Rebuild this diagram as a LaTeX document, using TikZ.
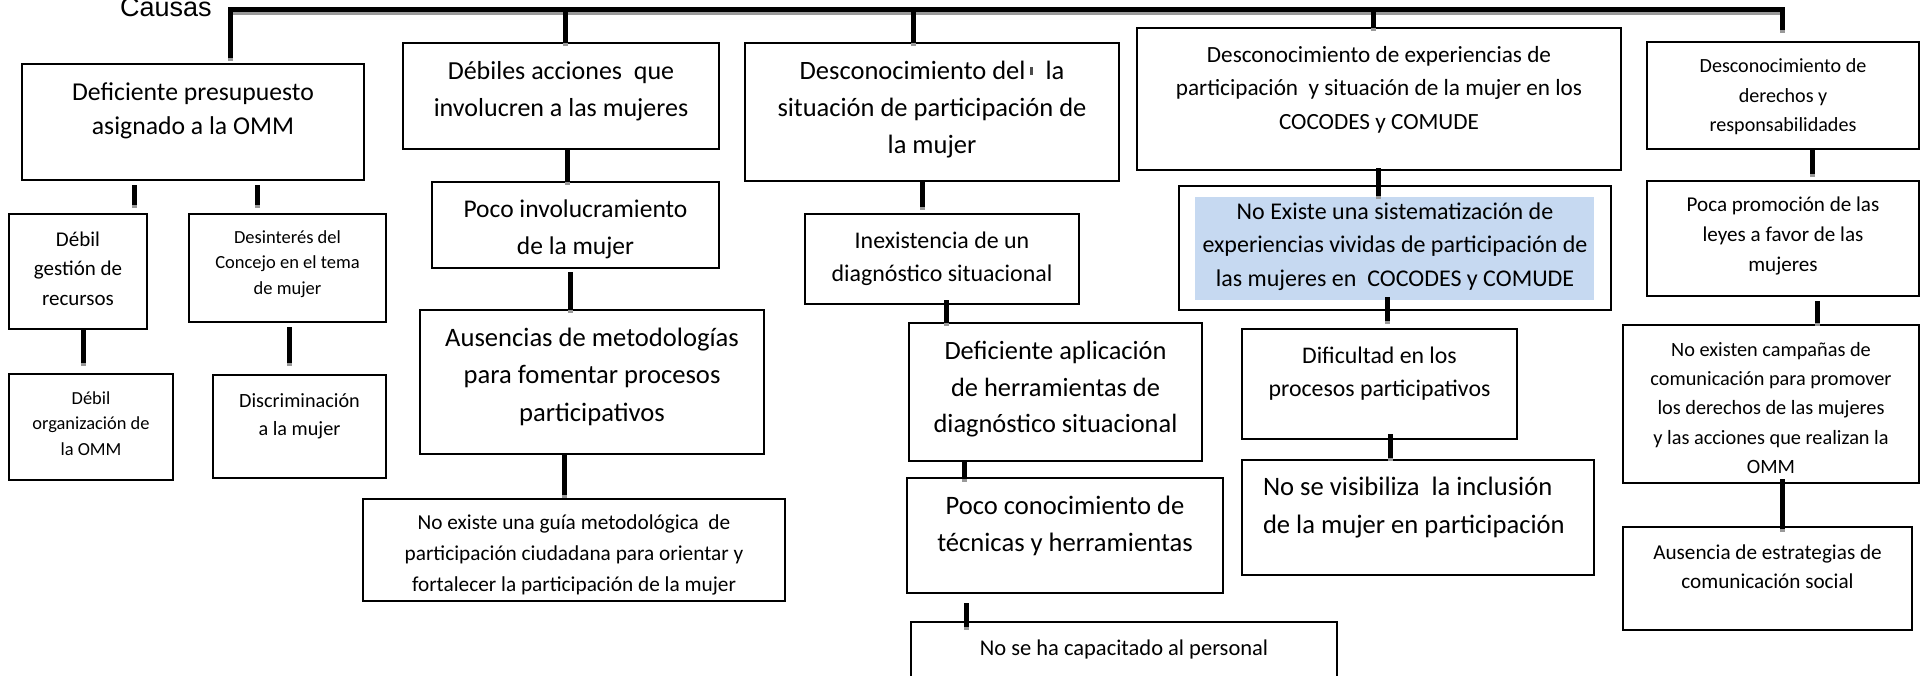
\documentclass[tikz,border=0pt]{standalone}
\usepackage{fontspec}
\setmainfont{Carlito}
\newfontfamily\arialf{Liberation Sans}
\definecolor{shadeblue}{HTML}{C6D9F1}
% #1 name, #2 x1, #3 y1, #4 x2, #5 y2, #6 first baseline (abs), #7 style, #8 alignment, #9 text
\newcommand\mkbox[9]{%
  \node[boxst,#7] (#1) at ({(#2+#4)/2},{(#3+#5)/2})
   {\parbox[c][\dimexpr #5pt-#3pt\relax][t]{\dimexpr #4pt-#2pt\relax}{#8\vspace*{\dimexpr #6pt-#3pt-0.7\baselineskip\relax}\strut #9}};}
\tikzset{
  boxst/.style={draw=black, line width=2pt, inner sep=0pt, outer sep=0pt, rectangle},
  fs/.style 2 args={font={\fontsize{#1}{#2}\selectfont}},
  conn/.style={line width=5pt, line cap=butt,
    preaction={draw=black!40, line width=5pt, transform canvas={yshift=-3pt}}},
}
\begin{document}
\begin{tikzpicture}[x=1pt,y=-1pt]
\useasboundingbox (0,0) rectangle (1929,675);
\fill[white] (0,0) rectangle (1929,675);

\node[anchor=base west, inner sep=0pt, font={\arialf\fontsize{27}{30}\selectfont}] (causas) at (120,16) {Causas};

% blue shading behind text of D1
\fill[shadeblue] (1195,197) rectangle (1594,300);

% column A
\mkbox{A}{22}{64}{364}{180}{100}{fs={25.7}{34}}{\centering}{Deficiente presupuesto\\asignado a la OMM}
\mkbox{A1}{9}{214}{147}{329}{246.7}{fs={21}{29.2}}{\centering}{Débil\\gestión de\\recursos}
\mkbox{A2}{189}{214}{386}{322}{243.3}{fs={18.5}{25.5}}{\centering}{Desinterés del\\Concejo en el tema\\de mujer}
\mkbox{A1a}{9}{374}{173}{480}{404}{fs={18.4}{25.5}}{\centering}{Débil\\organización de\\la OMM}
\mkbox{A2a}{213}{375}{386}{478}{407}{fs={20.2}{28.7}}{\centering}{Discriminación\\a la mujer}

% column B
\mkbox{B}{403}{43}{719}{149}{79.6}{fs={26}{36.6}}{\centering}{Débiles acciones~~que\\involucren a las mujeres}
\mkbox{B1}{432}{182}{719}{268}{217.4}{fs={25.5}{37.4}}{\centering}{Poco involucramiento\\de la mujer}
\mkbox{B2}{420}{310}{764}{454}{346.5}{fs={26.6}{37.4}}{\centering}{Ausencias de metodologías\\para fomentar procesos\\participativos}
\mkbox{B3}{363}{499}{785}{601}{529.5}{fs={21.3}{31}}{\centering}{No existe una guía metodológica~~de\\participación ciudadana para orientar y\\fortalecer la participación de la mujer}

% column C
\mkbox{C}{745}{43}{1119}{181}{79.6}{fs={26.5}{37}}{\centering}{Desconocimiento del\hspace{4pt}\raisebox{5pt}{\color{black!70}\rule{3pt}{8pt}}\hspace{13pt}la\\situación de participación de\\la mujer}
\mkbox{C1}{805}{214}{1079}{304}{248.8}{fs={23.9}{33}}{\centering}{Inexistencia de un\\diagnóstico situacional}
\mkbox{C2}{909}{323}{1202}{461}{359.5}{fs={26.4}{36.6}}{\centering}{Deficiente aplicación\\de herramientas de\\diagnóstico situacional}
\mkbox{C3}{907}{478}{1223}{593}{514.4}{fs={26.6}{36.6}}{\centering}{Poco conocimiento de\\técnicas y herramientas}
\mkbox{C4}{911}{622}{1337}{690}{655}{fs={22.5}{31}}{\centering}{No se ha capacitado al personal}

% column D
\mkbox{D}{1137}{28}{1621}{170}{62.4}{fs={23.2}{33.3}}{\centering}{Desconocimiento de experiencias de\\participación~~y situación de la mujer en los\\COCODES y COMUDE}
\mkbox{D1}{1179}{186}{1611}{310}{219.5}{fs={24}{33.4}}{\centering}{No Existe una sistematización de\\experiencias vividas de participación de\\las mujeres en~~COCODES y COMUDE}
\mkbox{D2}{1242}{329}{1517}{439}{363.7}{fs={23.8}{33}}{\centering}{Dificultad en los\\procesos participativos}
\mkbox{D3}{1242}{460}{1594}{575}{495}{fs={26.6}{38.7}}{\raggedright\leftskip=21pt\relax}{No se visibiliza~~la inclusión\\de la mujer en participación}

% column E
\mkbox{E}{1647}{42}{1919}{149}{72.3}{fs={20.1}{29.7}}{\centering}{Desconocimiento de\\derechos y\\responsabilidades}
\mkbox{E1}{1647}{181}{1919}{296}{211.8}{fs={21.1}{29.7}}{\centering}{Poca promoción de las\\leyes a favor de las\\mujeres}
\mkbox{E2}{1623}{325}{1919}{483}{356}{fs={20.3}{29.4}}{\centering}{No existen campañas de\\comunicación para promover\\los derechos de las mujeres\\y las acciones que realizan la\\OMM}
\mkbox{E3}{1623}{527}{1912}{630}{559}{fs={21.2}{29.3}}{\centering}{Ausencia de estrategias de\\comunicación social}

% main bus
\coordinate (busR) at (1782,9.5);
\draw[conn] ([xshift=37pt,yshift=6pt]A.north) |- (busR) -- ([xshift=-1pt,yshift=12pt]E.north);
\draw[conn] ([xshift=4pt]B.north) -- ([xshift=4pt,yshift=33.5pt]B.north);
\draw[conn] ([xshift=-19pt]C.north) -- ([xshift=-19pt,yshift=33.5pt]C.north);
\draw[conn] ([xshift=-6pt]D.north) -- ([xshift=-6pt,yshift=18.5pt]D.north);

% connectors
\draw[conn] ([xshift=-59pt,yshift=-5pt]A.south) -- ([xshift=56pt,yshift=9pt]A1.north);
\draw[conn] ([xshift=64pt,yshift=-5pt]A.south) -- ([xshift=-30.5pt,yshift=9pt]A2.north);
\draw[conn] ([xshift=5pt,yshift=-1pt]A1.south) -- ([xshift=-8pt,yshift=11pt]A1a.north);
\draw[conn] ([xshift=1.5pt,yshift=-5pt]A2.south) -- ([xshift=-10.5pt,yshift=12pt]A2a.north);

\draw[conn] ([xshift=6pt]B.south) -- ([xshift=-8.5pt]B1.north);
\draw[conn] ([xshift=-5.5pt,yshift=-4pt]B1.south) -- ([xshift=-22pt]B2.north);
\draw[conn] ([xshift=-28pt]B2.south) -- ([xshift=-10pt,yshift=4pt]B3.north);

\draw[conn] ([xshift=-10pt]C.south) -- ([xshift=-20pt,yshift=7pt]C1.north);
\draw[conn] ([xshift=4pt,yshift=4pt]C1.south) -- ([xshift=-109.5pt]C2.north);
\draw[conn] ([xshift=-91.5pt]C2.south) -- ([xshift=-101pt,yshift=-1pt]C3.north);
\draw[conn] ([xshift=-99pt,yshift=-10pt]C3.south) -- ([xshift=-158pt,yshift=-5pt]C4.north);

\draw[conn] ([xshift=-1pt,yshift=2pt]D.south) -- ([xshift=-17pt,yshift=-10pt]D1.north);
\draw[conn] ([xshift=-8pt,yshift=13pt]D1.south) -- ([xshift=7.5pt,yshift=8pt]D2.north);
\draw[conn] ([xshift=10.5pt,yshift=5pt]D2.south) -- ([xshift=-28pt,yshift=2pt]D3.north);

\draw[conn] ([xshift=29pt]E.south) -- ([xshift=29pt,yshift=7pt]E1.north);
\draw[conn] ([xshift=34pt,yshift=-5pt]E1.south) -- ([xshift=46pt,yshift=2pt]E2.north);
\draw[conn] ([xshift=11pt,yshift=4pt]E2.south) -- ([xshift=14.5pt,yshift=-2pt]E3.north);
\end{tikzpicture}
\end{document}
